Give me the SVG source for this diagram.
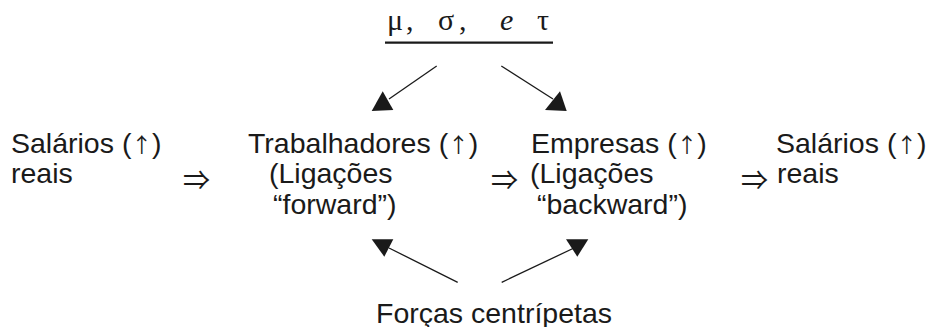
<svg xmlns="http://www.w3.org/2000/svg" width="927" height="327" viewBox="0 0 927 327">
<style>
.t{font-family:"Liberation Sans",Arial,sans-serif;font-size:28.5px;fill:#1a1a1a}
.ar{font-family:"Noto Sans CJK JP",sans-serif;font-size:20.5px}
.g{font-family:"Liberation Serif","Times New Roman",serif;font-size:30px;fill:#1a1a1a}
.imp{font-family:"Noto Sans CJK JP",sans-serif;font-size:27px;fill:#1a1a1a}
.ln{stroke:#1a1a1a;stroke-width:1.3;fill:none}
.hd{fill:#1a1a1a;stroke:none}
</style>
<rect width="927" height="327" fill="#fff"/>
<g id="params">
<text class="g" x="387" y="29.5">μ</text>
<text class="g" x="406" y="29.5">,</text>
<text class="g" x="438" y="29.5">σ</text>
<text class="g" x="459" y="29.5">,</text>
<text class="g" x="500" y="29.5" font-style="italic">e</text>
<text class="g" x="537" y="29.5">τ</text>
<line x1="385" y1="42.7" x2="553" y2="42.7" stroke="#1a1a1a" stroke-width="2.2"/>
</g>
<g id="salarios1">
<text class="t" x="11" y="152.5">Salários (<tspan class="ar">↑</tspan>)</text>
<text class="t" x="11" y="183">reais</text>
</g>
<g id="trabalhadores">
<text class="t" x="248" y="152.5">Trabalhadores (<tspan class="ar">↑</tspan>)</text>
<text class="t" x="269" y="183">(Ligações</text>
<text class="t" x="273" y="213.5">“forward”)</text>
</g>
<g id="empresas">
<text class="t" x="531" y="152.5">Empresas (<tspan class="ar">↑</tspan>)</text>
<text class="t" x="530" y="183">(Ligações</text>
<text class="t" x="537" y="213.5">“backward”)</text>
</g>
<g id="salarios2">
<text class="t" x="776" y="152.5">Salários (<tspan class="ar">↑</tspan>)</text>
<text class="t" x="777" y="183">reais</text>
</g>
<g id="forcas">
<text class="t" x="376" y="322.5">Forças centrípetas</text>
</g>
<g id="connectors">
<text class="imp" x="183" y="190">⇒</text>
<text class="imp" x="491" y="190">⇒</text>
<text class="imp" x="741" y="190">⇒</text>
<line class="ln" x1="436.7" y1="66" x2="389" y2="99"/>
<polygon class="hd" points="371.7,111 382.7,91.3 393.3,110"/>
<line class="ln" x1="501.3" y1="66" x2="553" y2="99"/>
<polygon class="hd" points="545,110 560,91.3 566.7,111"/>
<line class="ln" x1="457.7" y1="282.3" x2="389" y2="248"/>
<polygon class="hd" points="371.7,239.3 393.3,239.3 384.3,256.7"/>
<line class="ln" x1="501.7" y1="282.3" x2="574" y2="248"/>
<polygon class="hd" points="566,239.3 588.3,239.3 577.3,256.7"/>
</g>
</svg>
